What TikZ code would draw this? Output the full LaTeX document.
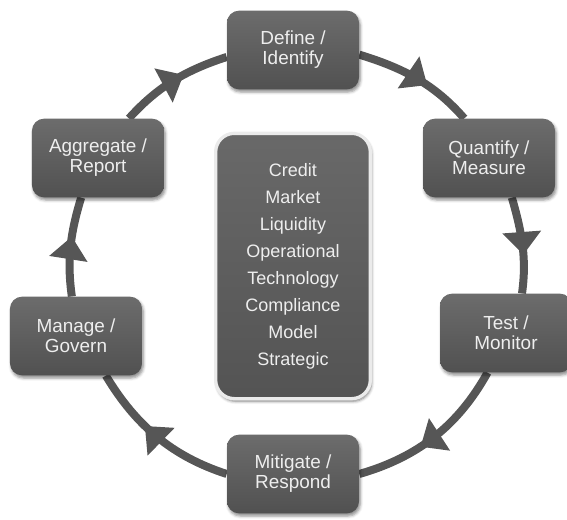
\documentclass[tikz,border=0pt]{standalone}
\usepackage{fontspec}
\setmainfont{Liberation Sans}
\usetikzlibrary{shadows.blur,backgrounds,decorations.markings,arrows.meta}
\definecolor{boxgray}{HTML}{585858}
\definecolor{ringgray}{HTML}{565656}
\definecolor{txtgray}{HTML}{EEEEEE}

\begin{document}
\begin{tikzpicture}[x=0.75pt, y=0.75pt,
  stage/.style={rounded corners=9pt, top color=boxgray!88!white, bottom color=boxgray!92!black,
    minimum width=99pt, minimum height=59pt, text=txtgray, align=center,
    font=\fontsize{14.2}{15}\selectfont,
    blur shadow={shadow xshift=1pt, shadow yshift=-2pt, shadow opacity=45}},
  riskbox/.style={rounded corners=14pt, draw=white!92!black, line width=2.5pt,
    top color=boxgray!90!white, bottom color=boxgray!95!black,
    minimum width=116pt, minimum height=199pt, text=txtgray, align=center,
    font=\fontsize{13.5}{20.25}\selectfont,
    blur shadow={shadow xshift=1pt, shadow yshift=-2pt, shadow opacity=50}},
  cyc/.style={draw=ringgray, line width=6pt, looseness=0.95, postaction={decorate},
    decoration={markings, mark=at position 0.6 with {\arrow[ringgray]{Triangle[length=17pt,width=28pt]}}}}
]
\useasboundingbox (-296,-255) rectangle (271,264);

% the cycle
\node[stage] (define) at (-3,214) {Define /\\Identify};
\node[stage] (quant) at (193,106) {Quantify /\\Measure};
\node[stage] (test) at (210,-69) {Test /\\Monitor};
\node[stage] (mitig) at (-3,-210) {Mitigate /\\Respond};
\node[stage] (manage) at (-220,-72) {Manage /\\Govern};
\node[stage] (aggr) at (-198,106) {Aggregate /\\Report};

% risk types in the middle
\node[riskbox] (risks) at (-3,-2) {Credit\\Market\\Liquidity\\Operational\\Technology\\Compliance\\Model\\Strategic};

\begin{scope}[on background layer]
\draw[cyc] (define.-4) to[out=-17, in=131] (quant.122);
\draw[cyc] (quant.-60) to[out=-74, in=82] (test.68);
\draw[cyc] (test.-115) to[out=-119, in=16] (mitig.0);
\draw[cyc] (mitig.180) to[out=162, in=-59] (manage.-53);
\draw[cyc] (manage.96) to[out=98, in=-107] (aggr.-113);
\draw[cyc] (aggr.52) to[out=48, in=198] (define.186);
\end{scope}
\end{tikzpicture}
\end{document}
